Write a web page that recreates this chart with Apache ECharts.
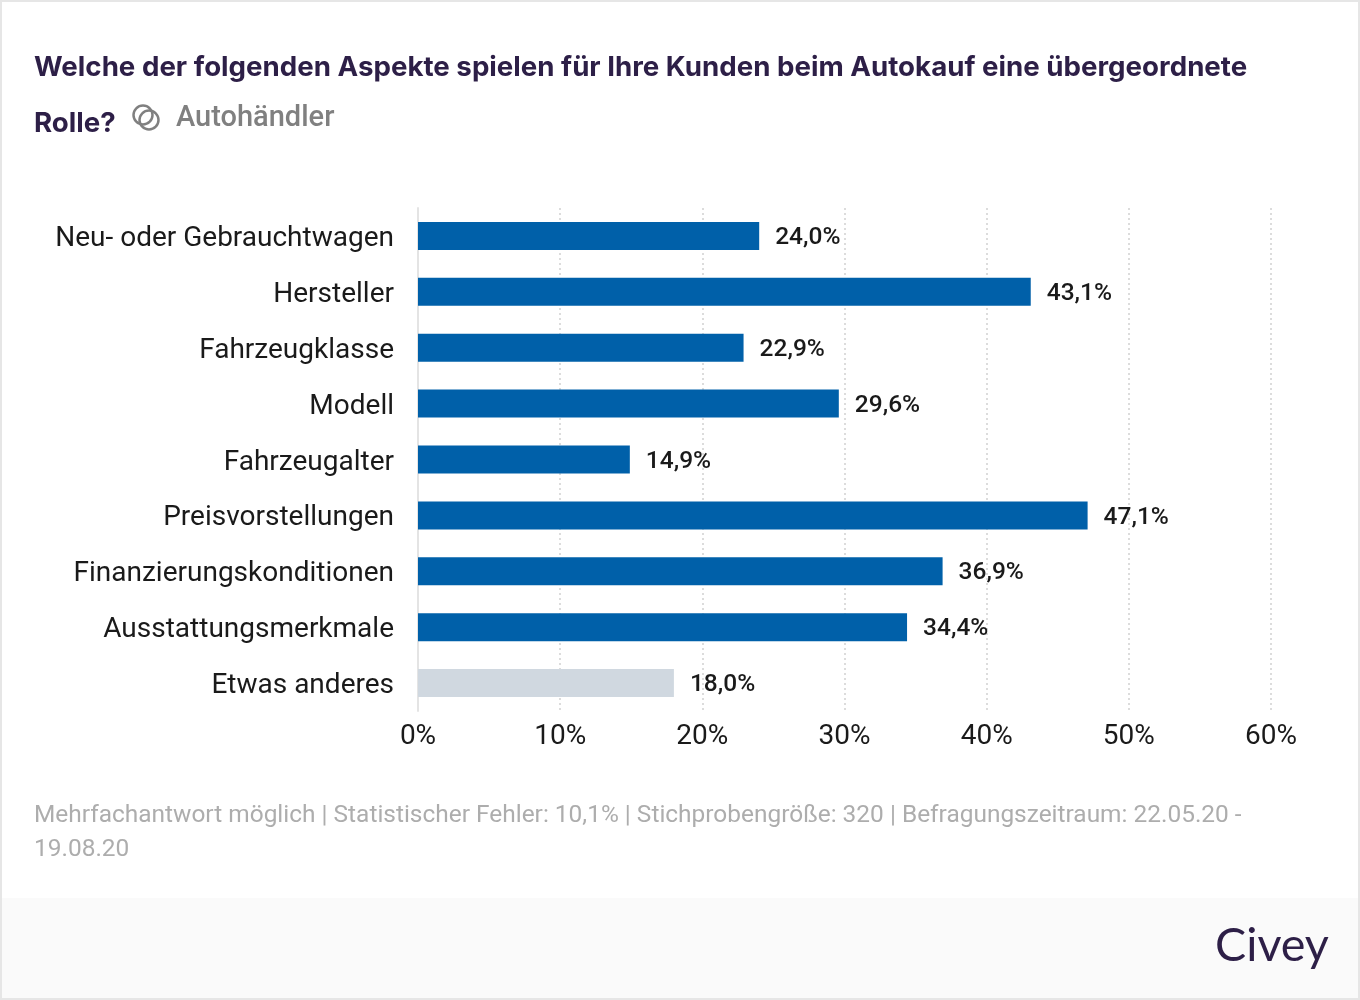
<!DOCTYPE html>
<html><head><meta charset="utf-8">
<style>html,body{margin:0;padding:0;background:#fff}#c{width:1360px;height:1000px}</style>
<script src="https://cdn.jsdelivr.net/npm/echarts@6/dist/echarts.min.js"></script>
</head><body><div id="c"></div>
<script>
const categories = ['Neu- oder Gebrauchtwagen','Hersteller','Fahrzeugklasse','Modell','Fahrzeugalter','Preisvorstellungen','Finanzierungskonditionen','Ausstattungsmerkmale','Etwas anderes'];
const values = [24.0,43.1,22.9,29.6,14.9,47.1,36.9,34.4,18.0];
const barColors = ['#0060a9','#0060a9','#0060a9','#0060a9','#0060a9','#0060a9','#0060a9','#0060a9','#d0d8e0'];
const titleLine1 = 'Welche der folgenden Aspekte spielen für Ihre Kunden beim Autokauf eine übergeordnete';
const titleLine2 = 'Rolle?';
const subtitle = 'Autohändler';
const footLine1 = 'Mehrfachantwort möglich | Statistischer Fehler: 10,1% | Stichprobengröße: 320 | Befragungszeitraum: 22.05.20 -';
const footLine2 = '19.08.20';
const brand = 'Civey';

const chart = echarts.init(document.getElementById('c'));
const txt = (x,y,text,font,fill,align) => ({type:'text',x,y,silent:true,style:{text,font,fill,align:align||'left',verticalAlign:'middle'}});
chart.setOption({
  animation:false,
  backgroundColor:'#fff',
  grid:{left:418,top:208,width:853,height:503,containLabel:false},
  xAxis:{type:'value',min:0,max:60,interval:10,
    axisLine:{show:false},axisTick:{show:false},
    axisLabel:{formatter:'{value}%',color:'#1a1a1a',fontFamily:'Roboto',fontSize:28,margin:11,lineHeight:30,hideOverlap:false},
    splitLine:{show:true,lineStyle:{color:'#dcdcdc',type:[2,3],width:2}}},
  yAxis:{type:'category',inverse:true,data:categories,
    axisLine:{show:true,lineStyle:{color:'#e4e4e4',width:2}},axisTick:{show:false},
    axisLabel:{color:'#1a1a1a',fontFamily:'Roboto',fontSize:28,margin:24,interval:0,verticalAlign:'top',lineHeight:6}},
  series:[{type:'bar',barWidth:28,silent:true,
    data:values.map((v,i)=>({value:v,itemStyle:{color:barColors[i]}})),
    label:{show:true,position:'right',distance:16,offset:[0,2],color:'#1a1a1a',fontFamily:'Roboto',fontWeight:500,fontSize:24.5,
      formatter:p=>p.value.toFixed(1).replace('.',',')+'%'}}],
  graphic:[
    {type:'rect',silent:true,z:-10,shape:{x:1,y:1,width:1358,height:998},style:{fill:'none',stroke:'#e6e6e6',lineWidth:2}},
    {type:'rect',silent:true,z:-9,shape:{x:2,y:898,width:1356,height:100},style:{fill:'#fafafa'}},
    txt(34,68,titleLine1,'700 27.7px Inter','#2d1f47'),
    txt(34,124,titleLine2,'700 27.7px Inter','#2d1f47'),
    {type:'circle',silent:true,shape:{cx:143,cy:115,r:9.5},style:{fill:'none',stroke:'#808080',lineWidth:2.5}},
    {type:'circle',silent:true,shape:{cx:149,cy:120,r:9.5},style:{fill:'none',stroke:'#808080',lineWidth:2.5}},
    txt(176,119,subtitle,'500 29px Roboto','#808080'),
    txt(34,816,footLine1,'400 24.45px Roboto','#adadad'),
    txt(34,850,footLine2,'400 24.45px Roboto','#adadad'),
    txt(1215,946,brand,'400 46.7px Lato','#2d1f47')
  ]
});
</script></body></html>
